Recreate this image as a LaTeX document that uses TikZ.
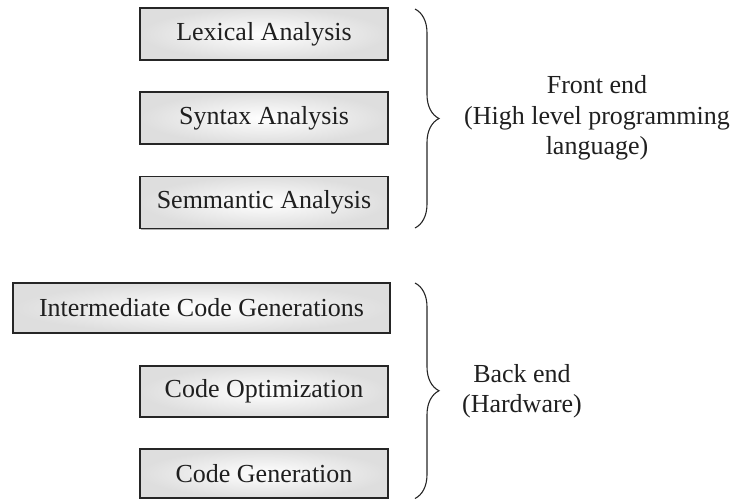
\documentclass[tikz,border=0pt]{standalone}
\usepackage{fontspec}
\setmainfont{Liberation Serif}
\usetikzlibrary{decorations.pathreplacing,shadows}
\begin{document}
\begin{tikzpicture}[x=1pt,y=-1pt,
  phase/.style={draw=black!85,line width=1.6pt,shading=radial,inner color=white,outer color=black!13,
    minimum width=248pt,minimum height=52pt,inner sep=0pt,
    font=\fontsize{26}{30.5}\selectfont,text=black!88,
    drop shadow={shadow xshift=1.2pt,shadow yshift=-1.2pt,fill=black!30,opacity=1}},
  grouping/.style={decorate,decoration={brace,amplitude=24pt},line width=1.1pt,draw=black!85},
  tag/.style={align=center,font=\fontsize{26}{30.5}\selectfont,text=black!88,inner sep=0pt}]
\useasboundingbox (0,0) rectangle (732,499);

% front-end phases
\node[phase] (lex) at (264,34) {Lexical Analysis};
\node[phase] (syn) at (264,118) {Syntax Analysis};
\node[phase] (sem) at (264,202.5) {Semmantic Analysis};

% back-end phases
\node[phase,minimum width=377pt,minimum height=50pt] (icg) at (201.5,308) {Intermediate Code Generations};
\node[phase,minimum height=51pt] (opt) at (264,391.5) {Code Optimization};
\node[phase,minimum height=49pt] (gen) at (264,473.5) {Code Generation};

% braces
\coordinate (fTop) at (415,9);
\coordinate (fBot) at (415,228);
\coordinate (bTop) at (415,283);
\coordinate (bBot) at (415,498.5);
\draw[grouping] (fTop) -- (fBot);
\draw[grouping] (bTop) -- (bBot);

% group labels
\node[tag] (front) at (597,118) {Front end\\(High level programming\\language)};
\node[tag] (back) at (522,391) {Back end\\(Hardware)};
\end{tikzpicture}
\end{document}
